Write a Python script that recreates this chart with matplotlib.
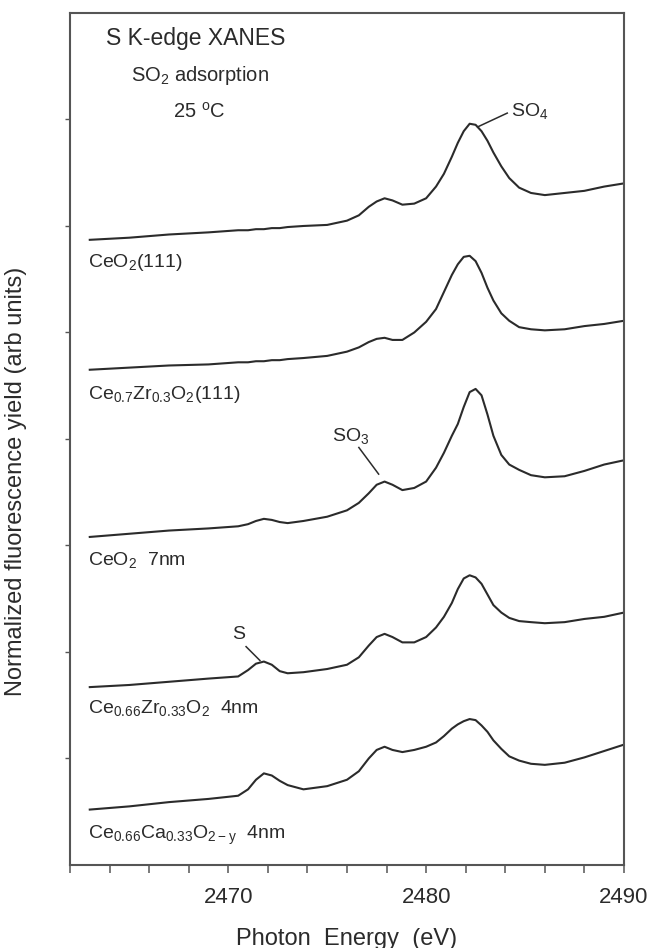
import matplotlib
matplotlib.use("Agg")
import matplotlib.pyplot as plt
from matplotlib.ticker import MultipleLocator, FixedLocator, NullFormatter

plt.rcParams["font.family"] = ["Liberation Sans", "DejaVu Sans"]
plt.rcParams["mathtext.default"] = "regular"

# photon energy grid (eV), shared by all spectra
energy = [2463, 2465, 2467, 2469, 2470.5, 2471.0, 2471.4, 2471.8, 2472.2, 2472.6,
          2473.0, 2473.8, 2475, 2476, 2476.6, 2477.1, 2477.5, 2477.9, 2478.3, 2478.8,
          2479.4, 2480.0, 2480.5, 2480.9, 2481.3, 2481.6, 2481.9, 2482.2, 2482.5, 2482.8,
          2483.1, 2483.4, 2483.8, 2484.2, 2484.7, 2485.3, 2486.0, 2487, 2488, 2489,
          2490]

# normalized fluorescence yield, stacked with offsets (arb units)
ceo2_111 = [5.87, 5.89, 5.92, 5.94, 5.96, 5.96, 5.97, 5.97, 5.98, 5.98,
            5.99, 6.00, 6.01, 6.05, 6.10, 6.18, 6.23, 6.26, 6.24, 6.20,
            6.21, 6.26, 6.37, 6.49, 6.65, 6.78, 6.89, 6.96, 6.95, 6.89,
            6.80, 6.69, 6.56, 6.45, 6.36, 6.31, 6.29, 6.31, 6.33, 6.37,
            6.40]
cezr_111 = [4.65, 4.67, 4.69, 4.70, 4.72, 4.72, 4.73, 4.73, 4.74, 4.74,
            4.75, 4.76, 4.78, 4.82, 4.86, 4.91, 4.94, 4.95, 4.93, 4.93,
            5.00, 5.10, 5.22, 5.38, 5.54, 5.64, 5.71, 5.72, 5.67, 5.56,
            5.42, 5.30, 5.18, 5.11, 5.05, 5.03, 5.02, 5.03, 5.06, 5.08,
            5.11]
ceo2_7nm = [3.08, 3.11, 3.14, 3.16, 3.18, 3.20, 3.23, 3.25, 3.24, 3.22,
            3.21, 3.23, 3.27, 3.33, 3.40, 3.49, 3.57, 3.60, 3.57, 3.52,
            3.54, 3.60, 3.73, 3.87, 4.03, 4.14, 4.30, 4.44, 4.47, 4.41,
            4.23, 4.03, 3.85, 3.76, 3.71, 3.66, 3.64, 3.65, 3.70, 3.76,
            3.80]
cezr_4nm = [1.67, 1.69, 1.72, 1.75, 1.77, 1.83, 1.89, 1.91, 1.88, 1.82,
            1.80, 1.81, 1.84, 1.88, 1.95, 2.06, 2.14, 2.17, 2.14, 2.09,
            2.09, 2.14, 2.23, 2.33, 2.46, 2.59, 2.69, 2.72, 2.70, 2.64,
            2.54, 2.44, 2.37, 2.32, 2.29, 2.28, 2.27, 2.28, 2.31, 2.33,
            2.37]
ceca_4nm = [0.52, 0.55, 0.59, 0.62, 0.65, 0.71, 0.80, 0.86, 0.84, 0.79,
            0.75, 0.71, 0.74, 0.80, 0.88, 1.00, 1.08, 1.11, 1.08, 1.06,
            1.08, 1.11, 1.15, 1.21, 1.28, 1.32, 1.35, 1.37, 1.36, 1.31,
            1.25, 1.17, 1.09, 1.02, 0.98, 0.95, 0.94, 0.96, 1.01, 1.07,
            1.13]

spectra = [ceo2_111, cezr_111, ceo2_7nm, cezr_4nm, ceca_4nm]
sample_names = [r"CeO$_2$(111)",
                r"Ce$_{0.7}$Zr$_{0.3}$O$_2$(111)",
                r"CeO$_2$  7nm",
                r"Ce$_{0.66}$Zr$_{0.33}$O$_2$  4nm",
                r"Ce$_{0.66}$Ca$_{0.33}$O$_{2-y}$  4nm"]
name_y = [5.66, 4.42, 2.86, 1.47, 0.28]

INK = "#2b2b2b"
FRAME = "#555555"

fig = plt.figure(figsize=(6.51, 9.48), dpi=100)
ax = fig.add_axes([0.1075, 0.0876, 0.851, 0.8987])

for yy in spectra:
    ax.plot(energy, yy, color=INK, lw=1.5, solid_joinstyle="round")

for name, yy in zip(sample_names, name_y):
    ax.text(2462.9, yy, name, fontsize=14, color=INK, va="center", ha="left")

# header text
ax.text(2463.8, 7.76, "S K-edge XANES", fontsize=16.5, color=INK, va="center")
ax.text(2465.1, 7.41, r"SO$_2$ adsorption", fontsize=14.5, color=INK, va="center")
ax.text(2467.2, 7.07, r"25 $^{o}$C", fontsize=14.5, color=INK, va="center")

# peak assignments
ax.plot([2482.6, 2484.1], [6.93, 7.06], color=INK, lw=1.1)
ax.text(2484.3, 7.08, r"SO$_4$", fontsize=14, color=INK, va="center")
ax.plot([2476.6, 2477.6], [3.92, 3.67], color=INK, lw=1.1)
ax.text(2476.2, 4.03, r"SO$_3$", fontsize=14, color=INK, va="center", ha="center")
ax.plot([2470.9, 2471.6], [2.05, 1.92], color=INK, lw=1.1)
ax.text(2470.5, 2.16, "S", fontsize=14, color=INK, va="center", ha="center")

ax.set_xlim(2462, 2490)
ax.set_ylim(0, 8)
ax.xaxis.set_major_locator(FixedLocator([2470, 2480, 2490]))
ax.xaxis.set_minor_locator(MultipleLocator(2))
ax.yaxis.set_major_locator(FixedLocator([1, 2, 3, 4, 5, 6, 7]))
ax.yaxis.set_major_formatter(NullFormatter())

ax.tick_params(axis="x", which="both", direction="out", length=6, width=1.1,
               color=FRAME, labelsize=16, labelcolor=INK, pad=10)
ax.tick_params(axis="y", which="major", direction="out", length=3.5, width=1.0,
               color=FRAME)
for sp in ax.spines.values():
    sp.set_color(FRAME)
    sp.set_linewidth(1.5)

ax.set_xlabel("Photon  Energy  (eV)", fontsize=17, color=INK, labelpad=14)
ax.set_ylabel("Normalized fluorescence yield (arb units)", fontsize=17, color=INK)
ax.yaxis.set_label_coords(-0.078, 0.45)

fig.savefig("out.png", dpi=100)
